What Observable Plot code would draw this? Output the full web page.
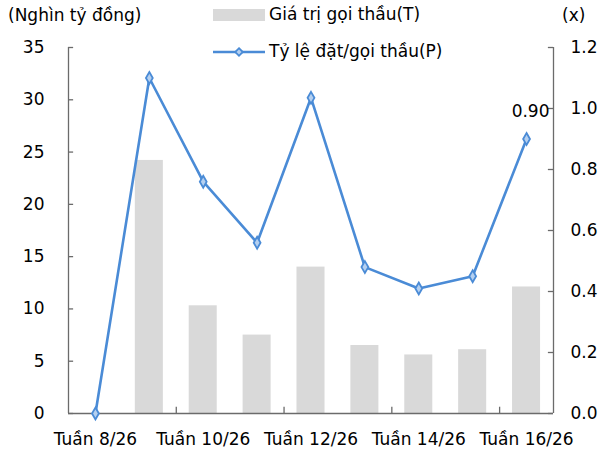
<!DOCTYPE html>
<html><head><meta charset="utf-8">
<script src="https://cdn.jsdelivr.net/npm/d3@7"></script>
<script src="https://cdn.jsdelivr.net/npm/@observablehq/plot@0.6"></script>
<style>
body{margin:0;background:#fff;}
#wrap{position:relative;width:606px;height:454px;font-family:"DejaVu Sans",sans-serif;color:#000;}
.lab{position:absolute;font-size:17px;white-space:nowrap;line-height:1;}
</style></head>
<body><div id="wrap"></div>
<script>
const weeks = [8, 9, 10, 11, 12, 13, 14, 15, 16];
const categories = ["Tuần 8/26","Tuần 9/26","Tuần 10/26","Tuần 11/26","Tuần 12/26","Tuần 13/26","Tuần 14/26","Tuần 15/26","Tuần 16/26"];
const bidValue = [0, 24.2, 10.3, 7.5, 14.0, 6.5, 5.6, 6.1, 12.1];
const ratio = [0, 1.10, 0.76, 0.56, 1.035, 0.48, 0.41, 0.45, 0.90];
const leftTicks = [0, 5, 10, 15, 20, 25, 30, 35];
const rightTicks = [0, 0.2, 0.4, 0.6, 0.8, 1.0, 1.2];
const labelWeeks = [8, 10, 12, 14, 16];
const boundaryWeeks = [9.5, 11.5, 13.5, 15.5];
const seriesNames = ["Giá trị gọi thầu(T)", "Tỷ lệ đặt/gọi thầu(P)"];
const leftUnit = "(Nghìn tỷ đồng)";
const rightUnit = "(x)";

const k = 35 / 1.2;
const data = weeks.map((w, i) => ({w, cat: categories[i], v: bidValue[i], p: ratio[i]}));
const lineColor = "#4a8bd6";
const axisColor = "#6b6b6b";
const fs = 17;

const chart = Plot.plot({
  width: 606, height: 454,
  marginLeft: 68, marginRight: 53, marginTop: 47, marginBottom: 41,
  style: {fontFamily: "DejaVu Sans, sans-serif", fontSize: fs + "px", color: "#000", background: "transparent", overflow: "visible"},
  x: {type: "linear", domain: [7.5, 16.5], axis: null},
  y: {domain: [0, 35], axis: null},
  marks: [
    Plot.rectY(data, {x1: d => d.w - 0.26, x2: d => d.w + 0.26, y1: 0, y2: "v", fill: "#d9d9d9"}),
    // axis lines
    Plot.ruleX([7.5, 16.5], {y1: 0, y2: 35, stroke: axisColor, strokeWidth: 1.3}),
    Plot.ruleY([0], {x1: 7.5, x2: 16.5, stroke: axisColor, strokeWidth: 1.3}),
    // inward ticks
    Plot.ruleY(leftTicks, {y: d => d, x1: 7.5, x2: 7.5 + 0.095, stroke: axisColor, strokeWidth: 1.3}),
    Plot.ruleY(rightTicks, {y: d => d * k, x1: 16.5 - 0.095, x2: 16.5, stroke: axisColor, strokeWidth: 1.3}),
    Plot.ruleX(boundaryWeeks, {x: d => d, y1: 0, y2: 0.6, stroke: axisColor, strokeWidth: 1.3}),
    // tick labels
    Plot.text(leftTicks, {x: 7.5, y: d => d, text: d => String(d), dx: -24, textAnchor: "end", fontSize: fs}),
    Plot.text(rightTicks, {x: 16.5, y: d => d * k, text: d => d.toFixed(1), dx: 17, textAnchor: "start", fontSize: fs}),
    Plot.text(labelWeeks, {x: d => d, y: 0, text: d => categories[weeks.indexOf(d)], dy: 26, fontSize: fs}),
    // line
    Plot.line(data, {x: "w", y: d => d.p * k, stroke: lineColor, strokeWidth: 2.6}),
    Plot.dot(data, {x: "w", y: d => d.p * k, symbol: "diamond", r: 3.6, fill: "#b5d0f0", stroke: lineColor, strokeWidth: 1.8}),
    Plot.text(data.filter(d => d.w === 16), {x: "w", y: d => d.p * k, text: d => d.p.toFixed(2), dy: -27, dx: 4, fontSize: fs})
  ]
});

const wrap = document.getElementById("wrap");
chart.style.position = "absolute";
chart.style.left = "0px"; chart.style.top = "0px";
wrap.appendChild(chart);

function addLabel(text, left, top) {
  const d = document.createElement("div");
  d.className = "lab"; d.textContent = text;
  d.style.left = left + "px"; d.style.top = top + "px";
  wrap.appendChild(d);
  return d;
}
addLabel(leftUnit, 8, 7);
addLabel(rightUnit, 562, 7);
// legend swatches
const sw = document.createElement("div");
sw.style.cssText = "position:absolute;left:213px;top:9px;width:52px;height:12px;background:#d9d9d9;";
wrap.appendChild(sw);
const ns = "http://www.w3.org/2000/svg";
const ls = document.createElementNS(ns, "svg");
ls.setAttribute("width", 56); ls.setAttribute("height", 14);
ls.style.cssText = "position:absolute;left:211px;top:45px;";
ls.innerHTML = `<line x1="2" y1="7" x2="54" y2="7" stroke="${lineColor}" stroke-width="2.6"/>` +
  `<path d="M28,3.2L31.8,7L28,10.8L24.2,7Z" fill="#b5d0f0" stroke="${lineColor}" stroke-width="1.8"/>`;
wrap.appendChild(ls);
addLabel(seriesNames[0], 269, 6);
addLabel(seriesNames[1], 269, 43);
</script></body></html>
